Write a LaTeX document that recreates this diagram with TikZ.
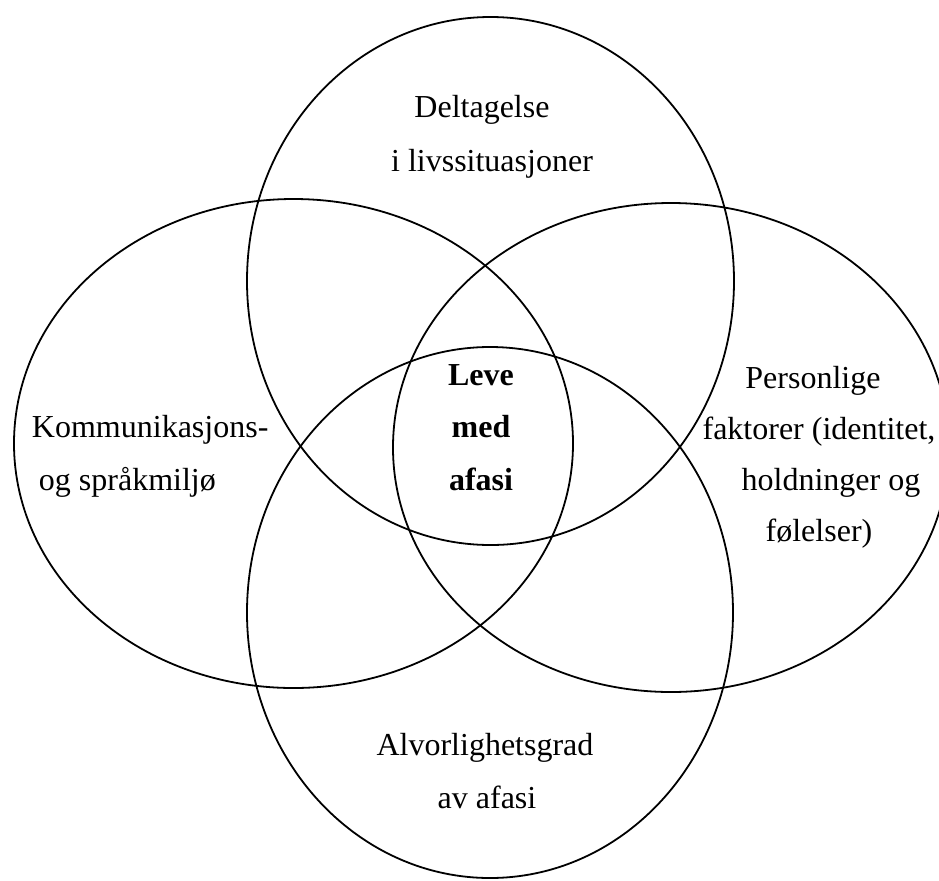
\documentclass[tikz,border=0pt]{standalone}
\usepackage{fontspec}
\setmainfont{Liberation Serif}
\usetikzlibrary{shapes.geometric}
\begin{document}
\begin{tikzpicture}[x=0.5pt,y=-0.5pt,
  venn/.style={draw=black, line width=0.9pt, ellipse, inner sep=0pt, outer sep=0pt},
  lab/.style={inner sep=0pt, outer sep=0pt, anchor=base, text=black}]
\useasboundingbox (0,0) rectangle (939,880);
% ellipses
\node[venn, minimum width=243.5pt, minimum height=264pt] (ellT) at (490.5,281) {};
\node[venn, minimum width=243pt, minimum height=265.5pt] (ellB) at (490,612.5) {};
\node[venn, minimum width=279.5pt, minimum height=244.5pt] (ellL) at (293.5,443.5) {};
\node[venn, minimum width=278pt, minimum height=244.5pt] (ellR) at (671,447.5) {};
% labels (anchor base = baseline of the last line)
\node[lab, align=center, font={\fontsize{16}{27}\selectfont}] (labT) at (492,171)
  {Deltagelse\hspace*{10pt}\\i livssituasjoner};
\node[lab, align=center, font={\fontsize{16}{26.25}\selectfont\bfseries}] (labC) at (481,490)
  {Leve\\med\\afasi};
\node[lab, anchor=base west, align=left, font={\fontsize{16}{26.5}\selectfont}] (labL) at (32,490)
  {Kommunikasjons-\\\hspace*{3.5pt}og språkmiljø};
\node[lab, align=center, font={\fontsize{16}{25.5}\selectfont}] (labR) at (819,541)
  {Personlige\hspace*{6pt}\\faktorer (identitet,\\\hspace*{12pt}holdninger og\\følelser)};
\node[lab, align=center, font={\fontsize{16}{26.5}\selectfont}] (labB) at (487,808)
  {Alvorlighetsgrad\hspace*{2pt}\\av afasi};
\end{tikzpicture}
\end{document}
